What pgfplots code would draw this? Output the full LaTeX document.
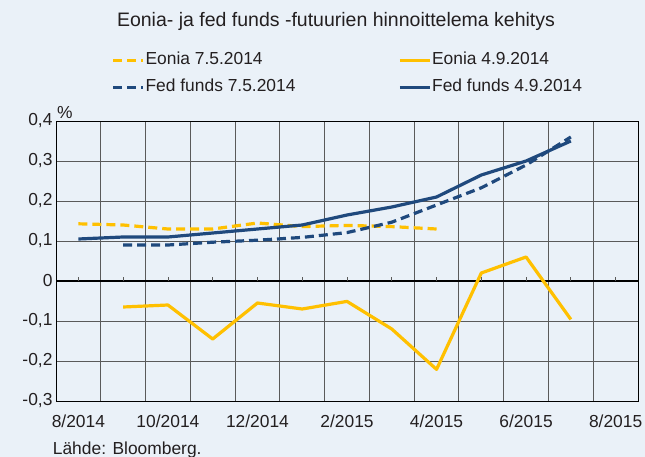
\documentclass[border=0pt]{standalone}
\usepackage{fontspec}
\setmainfont{Liberation Sans}
\usepackage{pgfplots}
\pgfplotsset{compat=1.18}
\definecolor{bgc}{RGB}{234,241,248}
\definecolor{eyel}{RGB}{255,192,0}
\definecolor{fnavy}{RGB}{31,73,125}
\definecolor{txt}{RGB}{35,31,32}
\definecolor{gridc}{RGB}{90,90,90}
\begin{document}
\begin{tikzpicture}
\fill[bgc] (0,0) rectangle (645bp,457bp);
\path[use as bounding box] (0,0) rectangle (645bp,457bp);
\begin{axis}[
  at={(56bp,56bp)}, anchor=south west,
  scale only axis, width=582bp, height=280bp,
  xmin=-0.5, xmax=12.5, ymin=-0.3, ymax=0.4,
  xtick={0,2,4,6,8,10,12},
  xticklabels={8/2014,10/2014,12/2014,2/2015,4/2015,6/2015,8/2015},
  minor xtick={-0.5,0.5,1.5,2.5,3.5,4.5,5.5,6.5,7.5,8.5,9.5,10.5,11.5,12.5},
  xminorgrids,
  ytick={-0.3,-0.2,-0.1,0,0.1,0.2,0.3,0.4},
  ymajorgrids,
  major tick length=0pt, minor tick length=0pt,
  grid style={gridc, line width=1bp},
  minor grid style={gridc, line width=1bp},
  major grid style={gridc, line width=1bp},
  axis line style={black, line width=1bp},
  /pgf/number format/use comma,
  /pgf/number format/fixed,
  /pgf/number format/precision=1,
  /pgf/number format/assume math mode=true,
  ticklabel style={font=\fontsize{17.4bp}{20bp}\selectfont, text=txt},
  xticklabel style={anchor=base, yshift=-26bp},
  extra y ticks={0}, extra y tick labels={},
  extra y tick style={major grid style={black, line width=1.2bp}},
  legend columns=2,
  legend cell align=left,
  legend style={draw=none, fill=none, at={(0.0962,1.243)}, anchor=north west,
    font=\fontsize{17.4bp}{20bp}\selectfont, text=txt,
    inner sep=0pt, outer sep=0pt, row sep=11.5bp, column sep=1bp,
    nodes={inner sep=0pt, text height=12bp, text depth=3.5bp},
    /tikz/every even column/.append style={column sep=103bp}},
  legend image code/.code={\draw[#1, line width=2.6bp] (0bp,0bp) -- (30bp,0bp);},
]
\addplot[ycomb, gridc, line width=0.8bp, forget plot] coordinates {
(0,0.011) (1,0.011) (2,0.011) (3,0.011) (4,0.011) (5,0.011) (6,0.011)
(7,0.011) (8,0.011) (9,0.011) (10,0.011) (11,0.011) (12,0.011)};
\addplot[eyel, line width=3.2bp, dash pattern=on 9bp off 5bp] coordinates {
(0,0.143) (1,0.140) (2,0.130) (3,0.130) (4,0.145) (5,0.136) (6,0.139) (7,0.136) (8,0.130)};
\addlegendentry{Eonia 7.5.2014}
\addplot[eyel, line width=3.2bp, line join=round] coordinates {
(1,-0.065) (2,-0.060) (3,-0.145) (4,-0.055) (5,-0.070) (6,-0.051) (7,-0.120) (8,-0.221) (9,0.020) (10,0.060) (11,-0.096)};
\addlegendentry{Eonia 4.9.2014}
\addplot[fnavy, line width=3.2bp, dash pattern=on 9bp off 5bp] coordinates {
(1,0.090) (2,0.090) (3,0.097) (4,0.102) (5,0.109) (6,0.121) (7,0.147) (8,0.190) (9,0.233) (10,0.290) (11,0.360)};
\addlegendentry{Fed funds 7.5.2014}
\addplot[fnavy, line width=3.2bp, line join=round] coordinates {
(0,0.105) (1,0.110) (2,0.110) (3,0.120) (4,0.130) (5,0.140) (6,0.165) (7,0.185) (8,0.210) (9,0.265) (10,0.300) (11,0.350)};
\addlegendentry{Fed funds 4.9.2014}
\end{axis}
\node[font=\fontsize{19.5bp}{22bp}\selectfont, text=txt] at (336bp,436bp) {Eonia- ja fed funds -futuurien hinnoittelema kehitys};
\node[anchor=base west, inner sep=0pt, font=\fontsize{17.4bp}{20bp}\selectfont, text=txt] at (57bp,338bp) {\%};
\node[anchor=base west, inner sep=0pt, font=\fontsize{17.4bp}{20bp}\selectfont, text=txt] at (52.7bp,3bp) {Lähde: Bloomberg.};
\end{tikzpicture}
\end{document}
